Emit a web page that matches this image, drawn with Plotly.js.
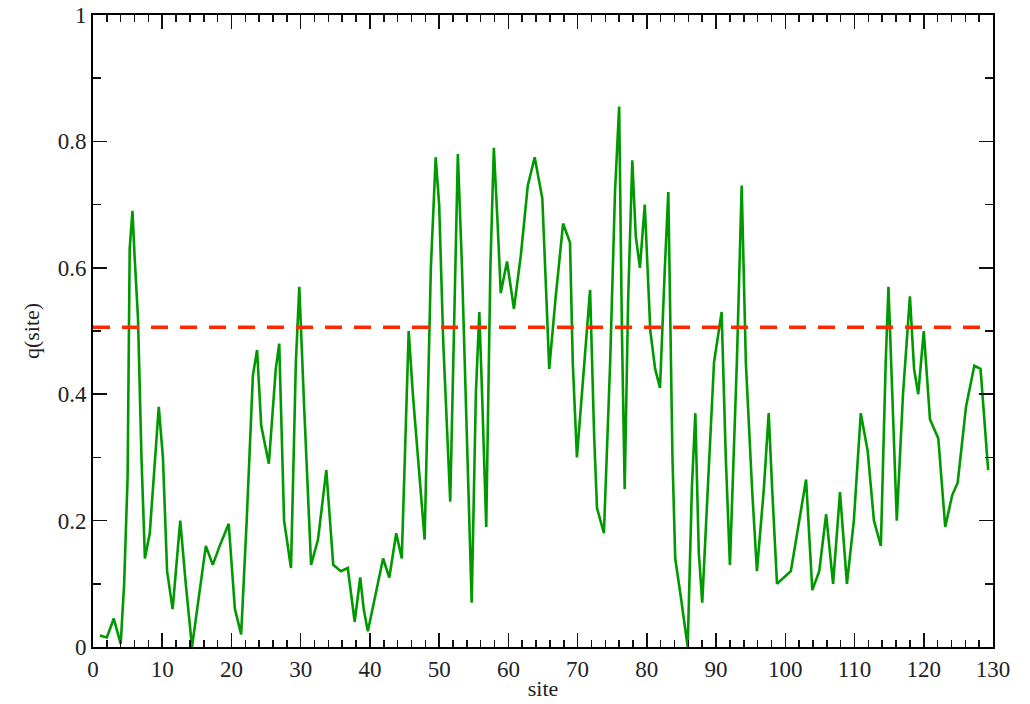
<!DOCTYPE html>
<html>
<head>
<meta charset="utf-8">
<script src="https://cdn.plot.ly/plotly-3.0.1.min.js"></script>
<style>
  html, body { margin: 0; padding: 0; background: #fff; }
  #chart { width: 1030px; height: 704px; }
</style>
</head>
<body>
<div id="chart"></div>
<script>
// Per-site order parameter q(site) along the chain
const site = [
  1, 2, 3, 4, 4.5, 5, 5.3, 5.7, 6, 6.5, 7, 7.5, 8.2, 9, 9.5, 10.1, 10.7, 11.5,
  12.6, 13.4, 14.3, 15.3, 16.3, 17.3, 18.3, 19.6, 20.5, 21.4, 22.2, 23.1, 23.7,
  24.3, 25.4, 26.4, 26.9, 27.6, 28.6, 29.3, 29.8, 30.5, 31.5, 32.5, 33.7, 34.7,
  35.8, 36.8, 37.8, 38.6, 39.1, 39.7, 40.9, 41.9, 42.8, 43.8, 44.6, 45.6, 46.2,
  46.9, 47.6, 47.9, 48.8, 49.5, 50, 50.6, 51.6, 52.3, 52.7, 53.3, 54, 54.7,
  55.3, 55.8, 56.2, 56.8, 57.4, 57.9, 58.4, 58.9, 59.8, 60.8, 61.8, 62.8, 63.8,
  64.9, 65.5, 65.9, 66.8, 67.9, 68.9, 69.3, 69.9, 70.8, 71.8, 72.4, 72.8, 73.8,
  74.7, 75.4, 76, 76.4, 76.8, 77.3, 77.9, 78.4, 79, 79.7, 80.5, 81.2, 81.9,
  82.6, 83.1, 83.7, 84.1, 84.9, 85.9, 86.5, 87, 87.5, 88, 88.8, 89.7, 90.8,
  91.4, 92, 93, 93.7, 94.3, 95.2, 95.9, 96.9, 97.6, 98.1, 98.8, 100.8, 102,
  103, 103.9, 104.9, 105.9, 106.9, 107.9, 108.9, 109.9, 110.9, 111.9, 112.8,
  113.8, 114.5, 114.9, 115.5, 116.1, 117, 118, 118.6, 119.2, 120, 120.9, 122.1,
  123.1, 124.1, 124.9, 126.1, 127.3, 128.2, 128.8, 129.3
];
const q = [
  0.018, 0.015, 0.045, 0.005, 0.10, 0.27, 0.63, 0.69, 0.62, 0.52, 0.30, 0.14, 0.18,
  0.30, 0.38, 0.30, 0.12, 0.06, 0.20, 0.10, 0.00, 0.08, 0.16, 0.13, 0.16, 0.195,
  0.06, 0.02, 0.20, 0.43, 0.47, 0.35, 0.29, 0.44, 0.48, 0.20, 0.125, 0.45, 0.57,
  0.38, 0.13, 0.17, 0.28, 0.13, 0.12, 0.125, 0.04, 0.11, 0.06, 0.025, 0.09, 0.14,
  0.11, 0.18, 0.14, 0.50, 0.40, 0.30, 0.20, 0.17, 0.60, 0.775, 0.70, 0.48, 0.23,
  0.60, 0.78, 0.60, 0.35, 0.07, 0.40, 0.53, 0.40, 0.19, 0.60, 0.79, 0.68, 0.56,
  0.61, 0.535, 0.62, 0.73, 0.775, 0.71, 0.55, 0.44, 0.55, 0.67, 0.64, 0.45, 0.30,
  0.42, 0.565, 0.33, 0.22, 0.18, 0.45, 0.72, 0.855, 0.50, 0.25, 0.55, 0.77, 0.65,
  0.60, 0.70, 0.50, 0.44, 0.41, 0.60, 0.72, 0.30, 0.14, 0.08, 0.00, 0.25, 0.37,
  0.15, 0.07, 0.25, 0.45, 0.53, 0.30, 0.13, 0.45, 0.73, 0.45, 0.25, 0.12, 0.25,
  0.37, 0.25, 0.10, 0.12, 0.20, 0.265, 0.09, 0.12, 0.21, 0.10, 0.245, 0.10, 0.20,
  0.37, 0.31, 0.20, 0.16, 0.45, 0.57, 0.40, 0.20, 0.40, 0.555, 0.44, 0.40, 0.50,
  0.36, 0.33, 0.19, 0.24, 0.26, 0.38, 0.445, 0.44, 0.35, 0.28
];

// Threshold level drawn across the chain
const thresholdX = [0, 129.7];
const thresholdY = [0.506, 0.506];

const xRange = [0, 130];
const yRange = [0, 1];

const serif = "Liberation Serif, Times New Roman, serif";

const traces = [
  {
    x: site, y: q, type: "scatter", mode: "lines",
    line: { color: "#009a00", width: 2.6 },
    hoverinfo: "skip"
  },
  {
    x: thresholdX, y: thresholdY, type: "scatter", mode: "lines",
    line: { color: "#ff2a00", width: 3.5, dash: "17px,12px" },
    hoverinfo: "skip"
  }
];

const axisCommon = {
  showline: true, linecolor: "#000", linewidth: 2, mirror: "allticks",
  ticks: "inside", tickwidth: 1.6, tickcolor: "#111",
  showgrid: false, zeroline: false,
  tickfont: { family: serif, size: 23, color: "#222" }
};

const layout = {
  width: 1030, height: 704,
  margin: { l: 93, r: 37, t: 15, b: 57 },
  paper_bgcolor: "#fff", plot_bgcolor: "#fff",
  showlegend: false,
  xaxis: Object.assign({}, axisCommon, {
    range: xRange, dtick: 10, tick0: 0, ticklen: 14,
    ticklabelstandoff: 0,
    minor: { dtick: 2, tick0: 0, ticks: "inside", ticklen: 7, tickwidth: 1.5, tickcolor: "#111" },
    title: { text: "site", font: { family: serif, size: 22, color: "#222" }, standoff: 0 }
  }),
  yaxis: Object.assign({}, axisCommon, {
    range: yRange, dtick: 0.2, tick0: 0, ticklen: 14,
    tickformat: "~g",
    minor: { dtick: 0.1, tick0: 0, ticks: "inside", ticklen: 8, tickwidth: 1.5, tickcolor: "#111" },
    title: { text: "q(site)", font: { family: serif, size: 22, color: "#222" }, standoff: 12 }
  })
};

Plotly.newPlot("chart", traces, layout, { displayModeBar: false, staticPlot: true });
</script>
</body>
</html>
